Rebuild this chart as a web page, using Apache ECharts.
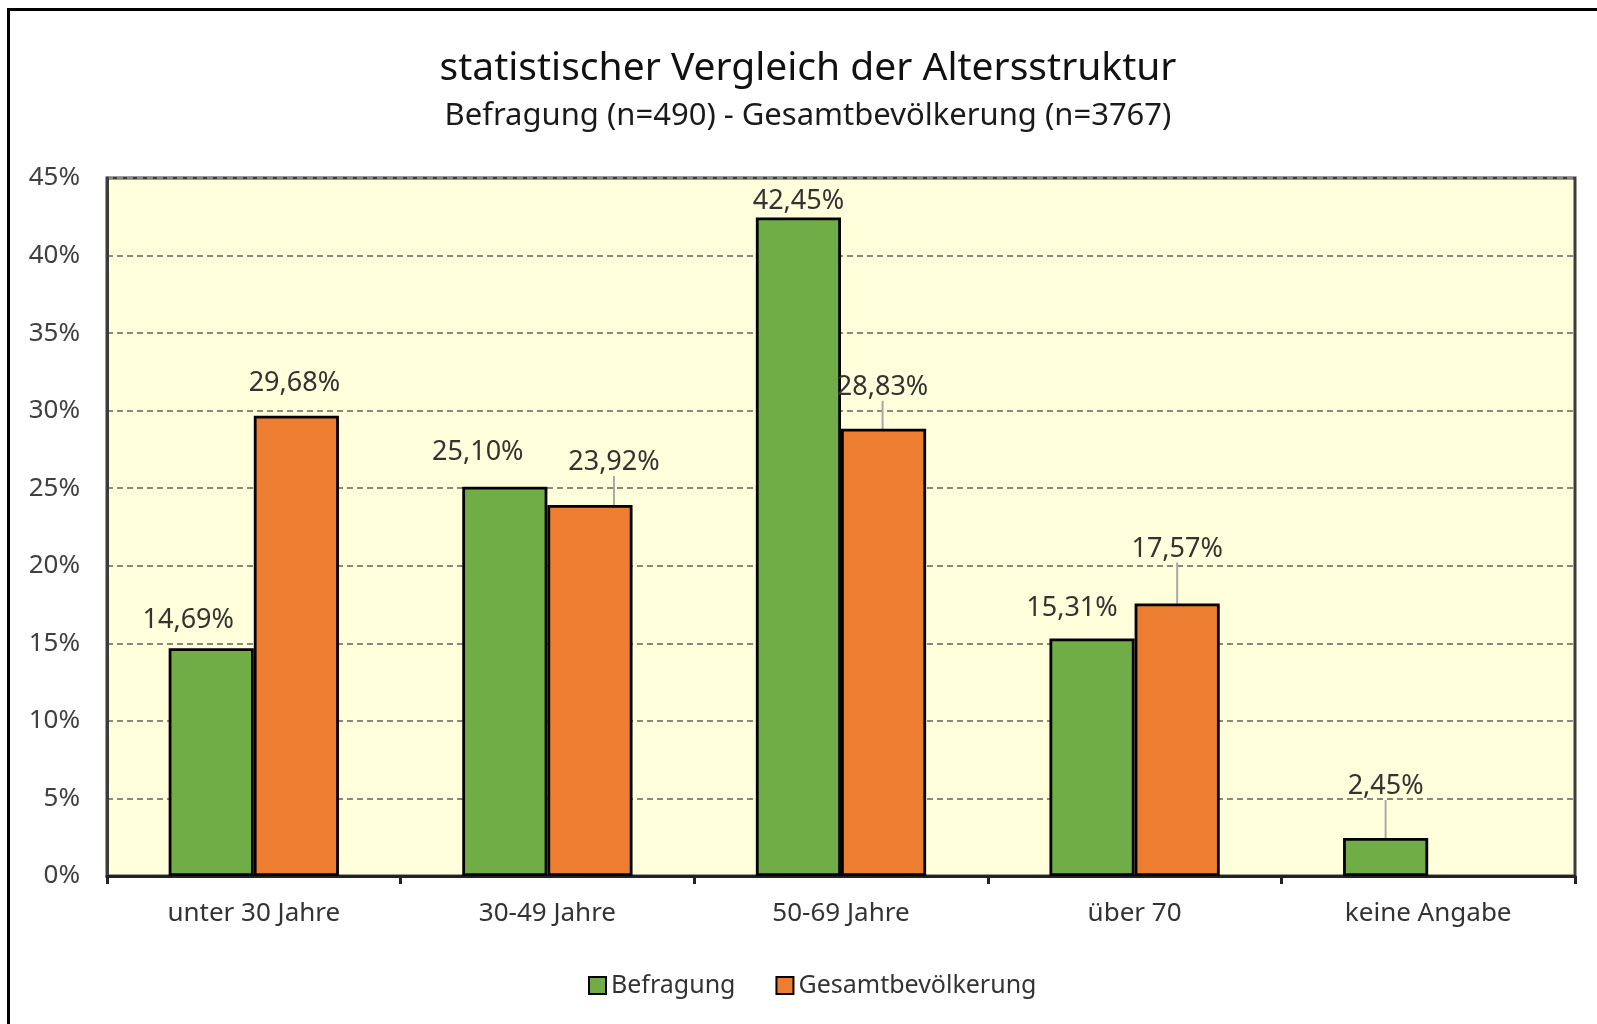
<!DOCTYPE html>
<html>
<head>
<meta charset="utf-8">
<title>Altersstruktur</title>
<script src="https://cdn.jsdelivr.net/npm/echarts@6/dist/echarts.min.js"></script>
<style>
html, body { margin: 0; padding: 0; background: #fff; }
.chart-box { position: relative; width: 1597px; height: 1024px; overflow: hidden; }
.frame { position: absolute; left: 7px; top: 8px; width: 1620px; height: 1040px;
  border-left: 3px solid #000; border-top: 3px solid #000; box-shadow: -1px -1px 0 #9a9a9a inset; }
#chart { position: absolute; left: 0; top: 0; width: 1597px; height: 1024px; }
</style>
</head>
<body>
<div class="chart-box">
  <div class="frame"></div>
  <div id="chart"></div>
</div>
<script>
// Daten
const categories = ['unter 30 Jahre', '30-49 Jahre', '50-69 Jahre', 'über 70', 'keine Angabe']
const befragung = [14.69, 25.10, 42.45, 15.31, 2.45]
const gesamt = [29.68, 23.92, 28.83, 17.57, null]

// Label-Verschiebung wie im Original (dx, dy) und Führungslinien
const befragungLabelShift = [[-23, -9], [-27, -16], [0, 2], [-20, -12], [0, -33]]
const gesamtLabelShift = [[-2, -14], [24, -24], [-1, -23], [0, -36], [0, 0]]
const befragungLeader = [false, false, false, false, true]
const gesamtLeader = [false, true, true, true, false]

const font = 'Noto Sans'

function fmt (v) {
  return v.toFixed(2).replace('.', ',') + '%'
}

function buildData (values, leaders) {
  return values.map((v, i) => ({
    value: v,
    labelLine: { show: leaders[i] }
  }))
}

function barSeries (name, color, values, shifts, leaders) {
  return {
    name: name,
    type: 'bar',
    barGap: '0%',
    barCategoryGap: '42%',
    data: buildData(values, leaders),
    itemStyle: { color: color, borderColor: '#000', borderWidth: 2.8 },
    label: {
      show: true,
      position: 'top',
      distance: 5,
      fontFamily: font,
      fontSize: 27,
      color: '#333',
      formatter: (p) => p.value == null ? '' : fmt(p.value)
    },
    labelLine: { lineStyle: { color: '#a8a8a8', width: 2 } },
    labelLayout: (params) => {
      const s = shifts[params.dataIndex] || [0, 0]
      return { dx: s[0], dy: s[1] }
    },
    emphasis: { disabled: true }
  }
}

const chart = echarts.init(document.getElementById('chart'), null, { renderer: 'canvas' })
chart.setOption({
  animation: false,
  title: {
    text: 'statistischer Vergleich der Altersstruktur',
    subtext: 'Befragung (n=490) - Gesamtbevölkerung (n=3767)',
    left: 808,
    textAlign: 'center',
    top: 49,
    padding: 0,
    itemGap: 13,
    textStyle: { fontFamily: font, fontSize: 39, fontWeight: 'normal', color: '#111' },
    subtextStyle: { fontFamily: font, fontSize: 31, color: '#1a1a1a' }
  },
  grid: {
    left: 107,
    top: 178,
    right: 22,
    bottom: 148,
    show: true,
    backgroundColor: '#FFFFDC',
    borderColor: '#3c3c3c',
    borderWidth: 3
  },
  legend: {
    left: 583,
    top: 968,
    itemWidth: 17,
    itemHeight: 17,
    itemGap: 40,
    icon: 'rect',
    textStyle: { fontFamily: font, fontSize: 25, color: '#333' },
    itemStyle: { borderColor: '#000', borderWidth: 2 },
    data: ['Befragung', 'Gesamtbevölkerung']
  },
  xAxis: {
    type: 'category',
    data: categories,
    axisLine: { lineStyle: { color: '#222', width: 3 } },
    axisTick: { show: true, length: 8, lineStyle: { color: '#222', width: 3 } },
    axisLabel: { fontFamily: font, fontSize: 26, color: '#333', margin: 25 }
  },
  yAxis: {
    type: 'value',
    min: 0,
    max: 45,
    interval: 5,
    axisLine: { show: true, lineStyle: { color: '#3c3c3c', width: 3 } },
    axisTick: { show: false },
    axisLabel: { fontFamily: font, fontSize: 26, color: '#404040', margin: 27, formatter: '{value}%' },
    splitLine: { lineStyle: { color: '#8a8a7c', width: 2, type: [6, 4] } }
  },
  series: [
    barSeries('Befragung', '#70AD47', befragung, befragungLabelShift, befragungLeader),
    barSeries('Gesamtbevölkerung', '#ED7D31', gesamt, gesamtLabelShift, gesamtLeader)
  ]
})
</script>
</body>
</html>
